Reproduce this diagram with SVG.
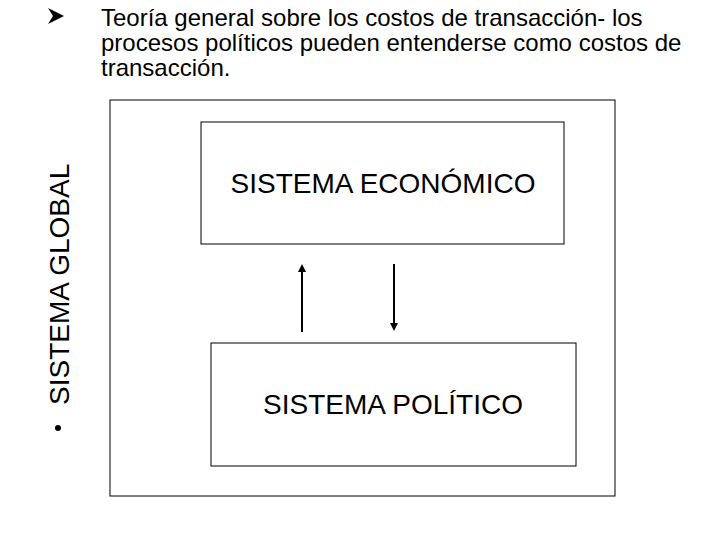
<svg xmlns="http://www.w3.org/2000/svg" width="720" height="540" viewBox="0 0 720 540">
<style>
text{font-family:"Liberation Sans",Arial,sans-serif;fill:#000}
.box{fill:#fff;stroke:#000;stroke-width:1}
.t{font-size:24px}
.big{font-size:28px}
.c{stroke:#000;stroke-width:2;fill:none}
</style>
<defs>
<marker id="ah" viewBox="0 0 10 10" refX="5" refY="5" markerWidth="4" markerHeight="4" orient="auto"><path d="M0,0L10,5L0,10z" fill="#000"/></marker>
</defs>
<rect width="720" height="540" fill="#fff"/>
<path d="M48,8L64,16L48,24L53,16z" fill="#000"/>
<text class="t" x="101" y="26">Teoría general sobre los costos de transacción- los</text>
<text class="t" x="101" y="51">procesos políticos pueden entenderse como costos de</text>
<text class="t" x="101" y="76">transacción.</text>
<g id="global"><rect class="box" x="110" y="100" width="505" height="396"/></g>
<g id="label"><circle cx="58" cy="428" r="3" fill="#000"/>
<text class="big" transform="translate(69,405) rotate(-90)">SISTEMA GLOBAL</text></g>
<g id="econ"><rect class="box" x="201" y="122" width="363" height="122"/><text class="big" x="383" y="193" text-anchor="middle">SISTEMA ECONÓMICO</text></g>
<g id="pol"><rect class="box" x="211" y="343" width="365" height="123"/><text class="big" x="393" y="414" text-anchor="middle">SISTEMA POLÍTICO</text></g>
<g id="connectors">
<line class="c" x1="302" y1="332" x2="302" y2="268" marker-end="url(#ah)"/>
<line class="c" x1="394" y1="264" x2="394" y2="327" marker-end="url(#ah)"/>
</g>
</svg>
